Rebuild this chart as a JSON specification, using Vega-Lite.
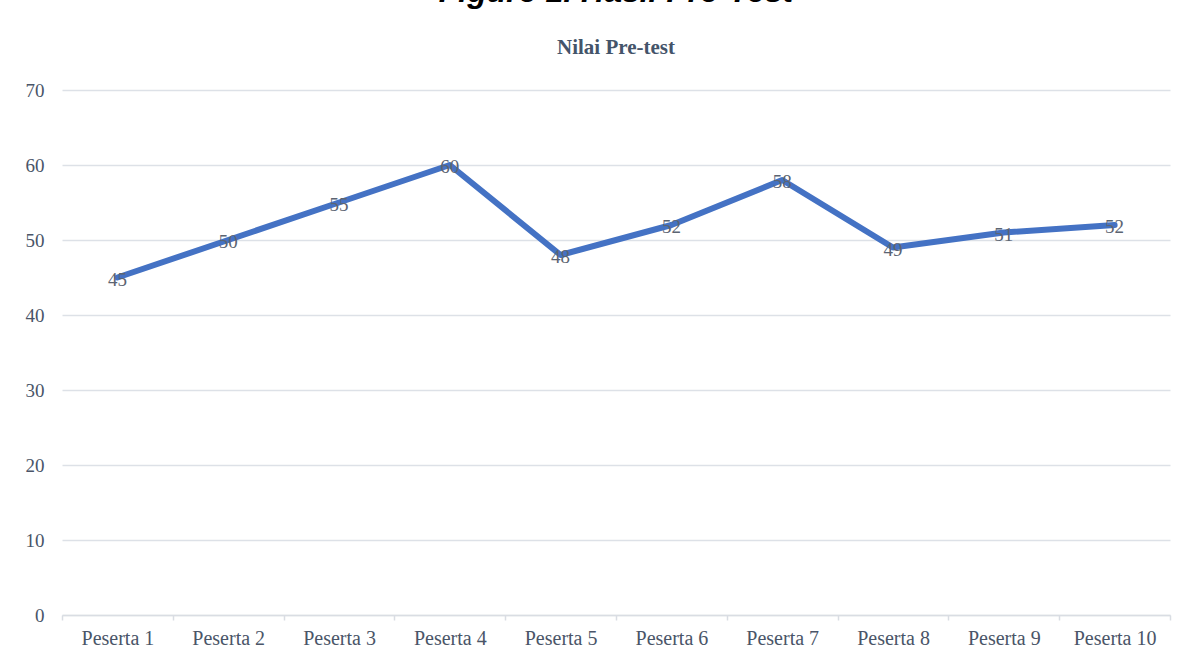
{
  "$schema": "https://vega.github.io/schema/vega-lite/v6.json",
  "autosize": {"type": "none"},
  "width": 1108,
  "height": 525,
  "padding": {"left": 62, "top": 90, "right": 24, "bottom": 44},
  "background": "white",
  "title": {
    "text": "Figure 1. Hasil Pre-Test",
    "subtitle": "Nilai Pre-test",
    "anchor": "middle",
    "font": "Liberation Sans",
    "fontSize": 32,
    "fontWeight": "bold",
    "fontStyle": "italic",
    "color": "#000000",
    "subtitleFont": "Liberation Serif",
    "subtitleFontSize": 21,
    "subtitleFontWeight": "bold",
    "subtitleColor": "#44546A",
    "subtitlePadding": 28,
    "offset": 22
  },
  "config": {"view": {"stroke": null}},
  "data": {
    "values": [
      {"peserta": "Peserta 1", "nilai": 45},
      {"peserta": "Peserta 2", "nilai": 50},
      {"peserta": "Peserta 3", "nilai": 55},
      {"peserta": "Peserta 4", "nilai": 60},
      {"peserta": "Peserta 5", "nilai": 48},
      {"peserta": "Peserta 6", "nilai": 52},
      {"peserta": "Peserta 7", "nilai": 58},
      {"peserta": "Peserta 8", "nilai": 49},
      {"peserta": "Peserta 9", "nilai": 51},
      {"peserta": "Peserta 10", "nilai": 52}
    ]
  },
  "encoding": {
    "x": {
      "field": "peserta",
      "type": "ordinal",
      "sort": null,
      "bandPosition": 0.5,
      "scale": {"type": "band", "paddingInner": 0, "paddingOuter": 0},
      "axis": {
        "title": null,
        "labelAngle": 0,
        "labelFont": "Liberation Serif",
        "labelFontSize": 20,
        "labelColor": "#4A5568",
        "domainColor": "#D9DDE3",
        "domainWidth": 1.5,
        "tickColor": "#D9DDE3",
        "tickWidth": 1.5,
        "tickSize": 5,
        "tickBand": "extent",
        "labelPadding": 8,
        "grid": false
      }
    },
    "y": {
      "field": "nilai",
      "type": "quantitative",
      "scale": {"domain": [0, 70], "nice": false},
      "axis": {
        "title": null,
        "values": [0, 10, 20, 30, 40, 50, 60, 70],
        "labelFont": "Liberation Serif",
        "labelFontSize": 19,
        "labelColor": "#4A5568",
        "domain": false,
        "ticks": false,
        "labelPadding": 18,
        "gridColor": "#DDE1E7",
        "gridWidth": 1.5
      }
    }
  },
  "layer": [
    {
      "mark": {"type": "line", "color": "#4472C4", "strokeWidth": 6, "strokeCap": "round", "strokeJoin": "round"}
    },
    {
      "mark": {"type": "text", "font": "Liberation Serif", "fontSize": 19, "color": "#5B6472", "baseline": "middle", "align": "center", "dy": 2},
      "encoding": {"text": {"field": "nilai", "type": "quantitative"}}
    }
  ]
}
